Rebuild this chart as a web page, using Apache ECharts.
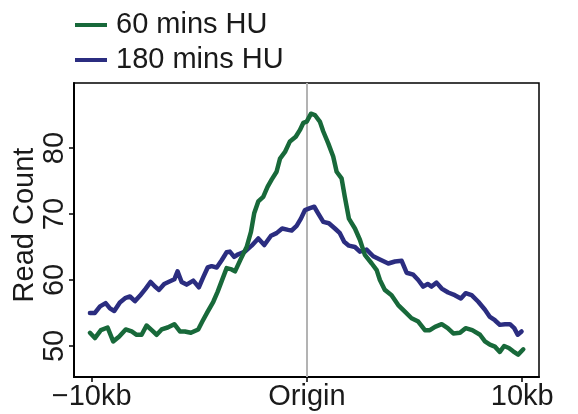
<!DOCTYPE html>
<html>
<head>
<meta charset="utf-8">
<script src="https://cdn.jsdelivr.net/npm/echarts@6/dist/echarts.min.js"></script>
<style>
html,body{margin:0;padding:0;background:#fff;}
#chart{width:578px;height:414px;}
</style>
</head>
<body>
<div id="chart"></div>
<script>
// Positions in kb relative to origin, and read counts
const seriesNames = ['60 mins HU', '180 mins HU'];
const xTickValues = [-10, 0, 10];
const xTickLabels = ['\u221210kb', 'Origin', '10kb'];
const yTickValues = [50, 60, 70, 80];

const pos60 = [-10.08,-9.85,-9.57,-9.26,-9.00,-8.73,-8.42,-8.14,-7.91,-7.68,-7.45,-7.21,-6.98,-6.75,-6.47,-6.16,-5.90,-5.67,-5.39,-5.05,-4.86,-4.61,-4.35,-4.15,-3.93,-3.73,-3.50,-3.34,-3.07,-2.80,-2.60,-2.45,-2.26,-2.03,-1.83,-1.64,-1.41,-1.25,-1.02,-0.79,-0.52,-0.33,-0.17,-0.01,0.19,0.37,0.60,0.76,0.99,1.22,1.38,1.61,1.76,1.95,2.23,2.46,2.69,3.01,3.24,3.39,3.62,3.93,4.24,4.55,4.86,5.17,5.48,5.71,5.95,6.26,6.54,6.80,7.11,7.37,7.68,8.04,8.27,8.50,8.73,8.96,9.16,9.38,9.58,9.81,10.05];
const val60 = [52.0,51.2,52.4,52.8,50.7,51.4,52.5,52.2,51.7,51.7,53.1,52.4,51.7,52.5,52.8,53.3,52.2,52.2,52.0,52.5,53.7,55.2,56.7,58.2,60.1,61.8,61.6,61.3,63.2,65.0,67.3,70.1,71.9,72.6,74.1,75.2,76.4,78.4,79.4,81.0,81.7,82.7,83.8,84.0,85.2,85.0,84.0,82.5,80.7,78.7,76.4,75.4,72.6,69.3,67.8,66.1,63.8,62.5,61.5,60.0,58.5,57.7,56.2,55.2,54.2,53.7,52.4,52.4,52.9,53.3,52.7,51.9,52.0,52.7,52.4,51.7,50.7,50.2,49.9,49.1,50.0,49.7,49.2,48.7,49.5];

const pos180 = [-10.08,-9.85,-9.61,-9.35,-9.15,-8.95,-8.69,-8.42,-8.22,-7.99,-7.76,-7.49,-7.26,-7.06,-6.87,-6.63,-6.36,-6.16,-6.01,-5.82,-5.59,-5.28,-5.02,-4.82,-4.61,-4.43,-4.19,-3.96,-3.73,-3.58,-3.38,-3.19,-2.88,-2.57,-2.26,-1.98,-1.67,-1.41,-1.15,-0.87,-0.71,-0.48,-0.28,-0.09,0.14,0.34,0.52,0.76,1.02,1.30,1.53,1.73,1.95,2.23,2.46,2.77,3.08,3.39,3.78,4.09,4.40,4.63,4.94,5.17,5.40,5.61,5.79,6.02,6.26,6.56,6.87,7.15,7.37,7.65,7.96,8.27,8.50,8.73,8.96,9.20,9.43,9.63,9.79,9.97];
const val180 = [55.0,55.0,56.0,56.5,55.7,55.3,56.6,57.3,57.5,56.8,57.6,58.7,59.7,59.0,58.5,59.4,59.8,60.1,61.3,59.7,59.3,59.9,58.9,60.4,61.9,62.1,61.9,63.0,64.2,64.3,63.5,63.9,64.3,65.2,66.3,65.3,66.7,67.1,67.8,67.6,67.5,68.2,69.3,70.6,70.9,71.1,70.1,68.8,68.6,67.8,67.1,65.8,65.2,65.0,64.3,64.6,63.6,63.1,62.5,62.8,62.9,61.1,60.8,60.0,59.0,59.4,59.0,59.6,58.7,58.1,57.7,57.2,58.0,57.7,56.7,55.5,54.4,53.9,53.2,53.3,53.3,52.7,51.7,52.2];

const zip = (xs, ys) => xs.map((x, i) => [x, ys[i]]);
const FONT = '"Liberation Sans", Arial, Helvetica, sans-serif';
const GREEN = '#18693a';
const BLUE = '#2b2d80';
const FS = 29;

const chart = echarts.init(document.getElementById('chart'), null, {renderer: 'canvas'});
chart.setOption({
  animation: false,
  backgroundColor: '#fff',
  textStyle: {fontFamily: FONT},
  legend: {
    orient: 'vertical',
    left: 75, top: 8, padding: 0,
    itemWidth: 32, itemHeight: 4, itemGap: 1,
    icon: 'rect',
    textStyle: {fontFamily: FONT, fontSize: FS, color: '#1a1a1a', lineHeight: 34, padding: [0,0,0,4]},
    data: seriesNames
  },
  grid: {
    left: 74, right: 39, top: 83, bottom: 37,
    outerBoundsMode: 'none',
    show: true, borderColor: '#000', borderWidth: 1.5, containLabel: false
  },
  xAxis: {
    type: 'value', min: -10.82, max: 10.78,
    axisLine: {show: true, onZero: false, lineStyle: {color: '#000', width: 2}},
    axisTick: {show: true, length: 5, customValues: xTickValues, lineStyle: {color: '#000', width: 1.5}},
    axisLabel: {
      customValues: xTickValues, margin: 5,
      fontFamily: FONT, fontSize: FS, color: '#1a1a1a',
      formatter: v => xTickLabels[xTickValues.indexOf(Math.round(v))]
    },
    splitLine: {show: false}
  },
  yAxis: {
    type: 'value', min: 45.3, max: 89.85,
    name: 'Read Count', nameLocation: 'middle', nameGap: 35, nameRotate: 90,
    nameMoveOverlap: false,
    nameTextStyle: {fontFamily: FONT, fontSize: FS, color: '#1a1a1a', padding: [0,0,0,10]},
    axisLine: {show: true, onZero: false, lineStyle: {color: '#000', width: 2}},
    axisTick: {show: true, length: 5, customValues: yTickValues, lineStyle: {color: '#000', width: 1.5}},
    axisLabel: {
      customValues: yTickValues, rotate: 90, margin: 5,
      fontFamily: FONT, fontSize: FS, color: '#1a1a1a'
    },
    splitLine: {show: false}
  },
  series: [
    {
      name: seriesNames[0], type: 'line', data: zip(pos60, val60),
      showSymbol: false, symbol: 'none', smooth: false, z: 3,
      color: GREEN,
      lineStyle: {color: GREEN, width: 4.5, cap: 'round', join: 'round'},
      markLine: {
        silent: true, symbol: 'none', label: {show: false},
        lineStyle: {color: '#b3b3b3', width: 2, type: 'solid'},
        data: [{xAxis: 0}], z: 1
      }
    },
    {
      name: seriesNames[1], type: 'line', data: zip(pos180, val180),
      showSymbol: false, symbol: 'none', smooth: false, z: 2,
      color: BLUE,
      lineStyle: {color: BLUE, width: 4.5, cap: 'round', join: 'round'}
    }
  ]
});
</script>
</body>
</html>
